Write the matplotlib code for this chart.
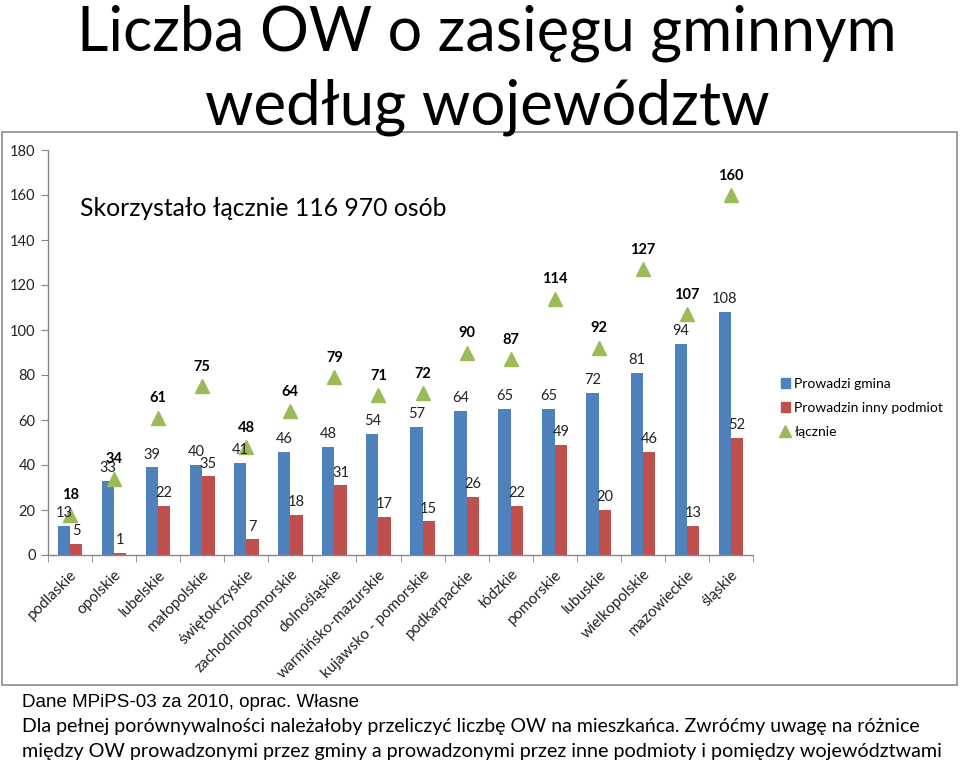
import matplotlib
matplotlib.use("Agg")
import matplotlib.pyplot as plt
from matplotlib.patches import Rectangle
from matplotlib.lines import Line2D
import numpy as np

categories = ["podlaskie", "opolskie", "lubelskie", "małopolskie", "świętokrzyskie",
              "zachodniopomorskie", "dolnośląskie", "warmińsko-mazurskie",
              "kujawsko - pomorskie", "podkarpackie", "łódzkie", "pomorskie",
              "lubuskie", "wielkopolskie", "mazowieckie", "śląskie"]
gmina = [13, 33, 39, 40, 41, 46, 48, 54, 57, 64, 65, 65, 72, 81, 94, 108]
inny = [5, 1, 22, 35, 7, 18, 31, 17, 15, 26, 22, 49, 20, 46, 13, 52]
lacznie = [18, 34, 61, 75, 48, 64, 79, 71, 72, 90, 87, 114, 92, 127, 107, 160]
series_names = ["Prowadzi gmina", "Prowadzin inny podmiot", "łącznie"]
yticks = [0, 20, 40, 60, 80, 100, 120, 140, 160, 180]

BLUE = "#4F81BD"
RED = "#C0504D"
GREEN = "#9BBB59"
FONT = ["Lato", "DejaVu Sans"]
plt.rcParams['font.family'] = FONT

W, H = 960, 763
fig = plt.figure(figsize=(W / 100, H / 100), dpi=100)
fig.patch.set_facecolor("white")

def fx(px):
    return px / W

def fy(py):
    return 1 - py / H

# chart box
fig.patches.append(Rectangle((fx(2), fy(685)), fx(957) - fx(2), fy(132) - fy(685),
                             transform=fig.transFigure, fill=False,
                             edgecolor="#8c8c8c", linewidth=1.2, zorder=0))

ax = fig.add_axes([fx(48), fy(555), fx(753) - fx(48), fy(150) - fy(555)])
x = np.arange(len(categories))
bw = 0.28
ax.bar(x - bw / 2, gmina, width=bw, color=BLUE, label=series_names[0], zorder=2)
ax.bar(x + bw / 2, inny, width=bw, color=RED, label=series_names[1], zorder=2)
ax.plot(x, lacznie, linestyle="none", marker="^", markersize=10, color=GREEN,
        label=series_names[2], zorder=3)

for i in range(len(categories)):
    ax.annotate(str(gmina[i]), (x[i] - bw / 2, gmina[i]), xytext=(0, 4),
                textcoords="offset points", ha="center", va="bottom",
                fontsize=10.5, color="#222222")
    ax.annotate(str(inny[i]), (x[i] + bw / 2, inny[i]), xytext=(0, 4),
                textcoords="offset points", ha="center", va="bottom",
                fontsize=10.5, color="#222222")
    ax.annotate(str(lacznie[i]), (x[i], lacznie[i]), xytext=(0, 9),
                textcoords="offset points", ha="center", va="bottom",
                fontsize=10.5, fontweight="bold", color="black")

ax.set_xlim(-0.5, len(categories) - 0.5)
ax.set_ylim(0, 180)
ax.set_yticks(yticks)
ax.set_yticklabels([str(v) for v in yticks], fontsize=10.5, color="#222222")
ax.tick_params(axis="y", length=5, color="#868686", pad=4)

ax.set_xticks(x)
ax.set_xticklabels(categories, rotation=45, ha="right", rotation_mode="anchor",
                   fontsize=11, color="#222222")
ax.tick_params(axis="x", which="major", length=0, pad=9)
ax.set_xticks(np.arange(-0.5, len(categories), 1.0), minor=True)
ax.tick_params(axis="x", which="minor", length=5, color="#868686")

for s in ["top", "right"]:
    ax.spines[s].set_visible(False)
for s in ["left", "bottom"]:
    ax.spines[s].set_color("#868686")
    ax.spines[s].set_linewidth(1)

handles = [Rectangle((0, 0), 1, 1, color=BLUE), Rectangle((0, 0), 1, 1, color=RED),
           Line2D([], [], linestyle="none", marker="^", markersize=8, color=GREEN)]
fig.legend(handles, series_names, loc="center left",
           bbox_to_anchor=(fx(768), fy(408)), frameon=False, fontsize=10,
           handlelength=0.7, handleheight=0.7, handletextpad=0.3, labelspacing=0.85)

# texts
def fit(t, width_px):
    fig.canvas.draw()
    r = fig.canvas.get_renderer()
    w = t.get_window_extent(r).width
    t.set_fontsize(t.get_fontsize() * width_px / w)

t1 = fig.text(fx(487), fy(50), "Liczba OW o zasięgu gminnym", ha="center",
              va="baseline", fontsize=44)
t2 = fig.text(fx(487), fy(125), "według województw", ha="center",
              va="baseline", fontsize=44)
t3 = fig.text(fx(80), fy(216), "Skorzystało łącznie 116 970 osób", ha="left",
              va="baseline", fontsize=16)
t4 = fig.text(fx(22), fy(707), "Dane MPiPS-03 za 2010, oprac. Własne", ha="left",
              va="baseline", fontsize=12, family=["Liberation Sans", "DejaVu Sans"])
t5 = fig.text(fx(22), fy(732),
              "Dla pełnej porównywalności należałoby przeliczyć liczbę OW na mieszkańca. Zwróćmy uwagę na różnice",
              ha="left", va="baseline", fontsize=13)
t6 = fig.text(fx(22), fy(757),
              "między OW prowadzonymi przez gminy a prowadzonymi przez inne podmioty i pomiędzy województwami",
              ha="left", va="baseline", fontsize=13)
fit(t1, 820)
fit(t2, 565)
fit(t3, 367)
fit(t4, 336)
fit(t5, 896)
fit(t6, 916)

fig.savefig("out.png", dpi=100, facecolor="white")
